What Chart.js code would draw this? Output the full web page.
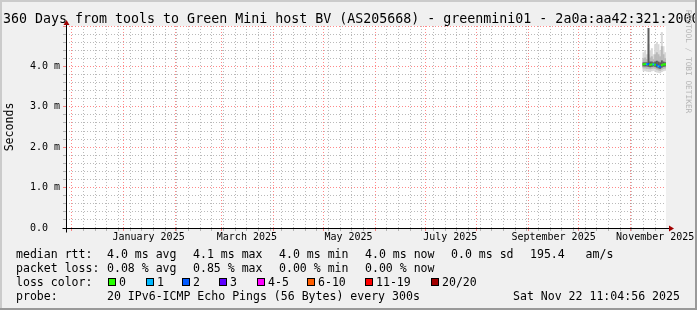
<!DOCTYPE html>
<html>
<head>
<meta charset="utf-8">
<script src="https://cdn.jsdelivr.net/npm/chart.js@4.4.1/dist/chart.umd.min.js"></script>
<style>
  html, body { margin: 0; padding: 0; background: #f0f0f0; }
  #frame { position: relative; width: 697px; height: 310px; overflow: hidden; background: #f0f0f0; }
  #frame canvas { position: absolute; left: 0; top: 0; }
  .t { position: absolute; font-family: 'DejaVu Sans Mono', monospace; font-size: 11.55px; line-height: 14px; white-space: pre; color: #000; }
  .sw { position: absolute; width: 6px; height: 6px; border: 1px solid #000; top: 278px; }
  #title { font-size: 13.3px; line-height: 16px; left: 3px; top: 11px; }
  #wm { position: absolute; left: 684px; top: 10px; writing-mode: vertical-rl; font-family: 'DejaVu Sans Mono', monospace; font-size: 7.8px; color: #b4b4b4; white-space: pre; }
  .shA { position: absolute; background: #cbcbcb; }
  .shB { position: absolute; background: #999; }
</style>
</head>
<body>
<div id="frame">
  <canvas id="chart" width="697" height="310"></canvas>
  <div class="t" id="title">360 Days from tools to Green Mini host BV (AS205668) - greenmini01 - 2a0a:aa42:321:2000</div>
  <div id="wm">RRDTOOL / TOBI OETIKER</div>

  <div class="t" style="left:16px;top:247px">median rtt:</div>
  <div class="t" style="left:107px;top:247px">4.0 ms avg</div>
  <div class="t" style="left:193px;top:247px">4.1 ms max</div>
  <div class="t" style="left:279px;top:247px">4.0 ms min</div>
  <div class="t" style="left:365px;top:247px">4.0 ms now</div>
  <div class="t" style="left:451px;top:247px">0.0 ms sd</div>
  <div class="t" style="left:530px;top:247px">195.4   am/s</div>

  <div class="t" style="left:16px;top:261px">packet loss:</div>
  <div class="t" style="left:107px;top:261px">0.08 % avg</div>
  <div class="t" style="left:193px;top:261px">0.85 % max</div>
  <div class="t" style="left:279px;top:261px">0.00 % min</div>
  <div class="t" style="left:365px;top:261px">0.00 % now</div>

  <div class="t" style="left:16px;top:275px">loss color:</div>
  <div id="lossLegend"></div>

  <div class="t" style="left:16px;top:289px">probe:</div>
  <div class="t" style="left:107px;top:289px">20 IPv6-ICMP Echo Pings (56 Bytes) every 300s</div>
  <div class="t" style="left:513px;top:289px">Sat Nov 22 11:04:56 2025</div>

  <div class="shA" style="left:0;top:0;width:697px;height:2px"></div>
  <div class="shA" style="left:0;top:0;width:2px;height:310px"></div>
  <div class="shB" style="left:0;top:308px;width:697px;height:2px"></div>
  <div class="shB" style="left:695px;top:0;width:2px;height:310px"></div>
</div>
<script>
// graph window: 360 days ending Sat Nov 22 2025 11:04:56
const startMs = Date.UTC(2024, 10, 27, 11, 4, 56);
const spanDays = 360;

// x axis labels (centred mid-month, every second month)
const xLabels = ['January 2025', 'March 2025', 'May 2025', 'July 2025', 'September 2025', 'November 2025'];
const xLabelDates = ['2025-01-16', '2025-03-16', '2025-05-16', '2025-07-16', '2025-09-16', '2025-11-16'];
const firstSunday = '2024-12-01';

// y axis, in ms
const yMax = 5;
const yStep = 0.2;

// samples: day offset from graph start (only the last two weeks have data)
const sampleDays = [346.5, 347.5, 348.5, 349.5, 350.5, 351.5, 352.5, 353.5, 354.5, 355.5, 356.5, 357.5, 358.5, 359.5];
// smoke envelope (ms)
const smokeMax  = [4.35, 4.40, 4.30, 4.55, 4.40, 4.45, 4.30, 4.55, 4.60, 4.55, 4.40, 4.85, 4.50, 4.35];
const smokeHigh = [4.20, 4.22, 4.18, 4.30, 4.22, 4.25, 4.18, 4.30, 4.35, 4.30, 4.25, 4.50, 4.30, 4.20];
const coreHigh  = [4.10, 4.10, 4.10, 4.95, 4.12, 4.12, 4.10, 4.12, 4.14, 4.12, 4.10, 4.15, 4.12, 4.10];
const medianRtt = [4.05, 4.06, 4.05, 4.06, 4.04, 4.05, 4.05, 4.04, 4.03, 4.00, 3.99, 4.03, 4.05, 4.05];
const coreLow   = [4.00, 4.00, 4.00, 3.99, 3.98, 3.99, 4.00, 3.99, 3.97, 3.95, 3.94, 3.97, 3.99, 4.00];
const smokeLow  = [3.95, 3.95, 3.94, 3.94, 3.93, 3.94, 3.95, 3.94, 3.92, 3.90, 3.89, 3.92, 3.94, 3.95];
const smokeMin  = [3.88, 3.88, 3.87, 3.86, 3.86, 3.88, 3.89, 3.87, 3.85, 3.84, 3.83, 3.86, 3.88, 3.89];
// lost pings out of 20 per sample
const lostPings = [0, 0, 1, 2, 0, 0, 1, 0, 2, 1, 2, 0, 0, 0];

// loss colour legend
const lossLabels = ['0', '1', '2', '3', '4-5', '6-10', '11-19', '20/20'];
const lossColors = ['#26ff00', '#00b8ff', '#0059ff', '#5e00ff', '#ff00ff', '#ff5e00', '#ff0000', '#a10000'];
const lossUpper  = [0, 1, 2, 3, 5, 10, 19, 20];

const swatchX = [108, 146, 182, 219, 257, 307, 365, 431];
const legendBox = document.getElementById('lossLegend');
lossLabels.forEach((lab, i) => {
  const sw = document.createElement('div');
  sw.className = 'sw';
  sw.style.left = swatchX[i] + 'px';
  sw.style.background = lossColors[i];
  legendBox.appendChild(sw);
  const tx = document.createElement('div');
  tx.className = 't';
  tx.style.left = (swatchX[i] + 11) + 'px';
  tx.style.top = '275px';
  tx.textContent = lab;
  legendBox.appendChild(tx);
});

function dayOf(iso) {
  return (Date.parse(iso + 'T00:00:00Z') - startMs) / 864e5;
}
function lossColor(n) {
  const i = lossUpper.findIndex((u) => n <= u);
  return lossColors[i];
}

// x ticks: weekly minor grid, monthly major grid, labels mid-month
const xTickInfo = new Map();
function addTick(v, key, val) {
  const k = Math.round(v * 1000) / 1000;
  const info = xTickInfo.get(k) || {};
  info[key] = val;
  xTickInfo.set(k, info);
}
for (let d = dayOf(firstSunday); d <= spanDays; d += 7) addTick(d, 'grid', 'minor');
for (let m = 0; m < 12; m++) {
  const d = (Date.UTC(2024, 11 + m, 1) - startMs) / 864e5;
  if (d <= spanDays) addTick(d, 'grid', 'major');
}
xLabelDates.forEach((iso, i) => addTick(dayOf(iso), 'label', xLabels[i]));
const xTickValues = [...xTickInfo.keys()].sort((a, b) => a - b);

const yTickValues = [];
for (let v = 0; v <= yMax + 1e-9; v += yStep) yTickValues.push(Math.round(v * 10) / 10);

const MINOR = 'rgba(140,140,140,0.6)';
const MAJOR = 'rgba(255,40,40,0.55)';
const NONE = 'rgba(0,0,0,0)';

function xGrid(c) {
  const info = c.tick && xTickInfo.get(c.tick.value);
  if (!info || !info.grid) return NONE;
  return info.grid === 'major' ? MAJOR : MINOR;
}
function yGrid(c) {
  return c.tick && Number.isInteger(c.tick.value) ? MAJOR : MINOR;
}

function bars(lo, hi) {
  return sampleDays.map((d, i) => ({ x: d, y: [lo[i], hi[i]] }));
}
const barCommon = { grouped: false, barPercentage: 1, categoryPercentage: 1, barThickness: 2, borderWidth: 0, inflateAmount: 0 };

const framePlugin = {
  id: 'frame',
  beforeDraw(chart) {
    const { ctx, chartArea: a } = chart;
    ctx.save();
    ctx.fillStyle = '#ffffff';
    ctx.fillRect(a.left, a.top, a.right - a.left, a.bottom - a.top);
    ctx.restore();
  },
  afterDraw(chart) {
    const { ctx, chartArea: a } = chart;
    const x0 = Math.round(a.left) + 0.5;
    const y0 = Math.round(a.bottom) + 0.5;
    ctx.save();
    ctx.strokeStyle = '#000';
    ctx.lineWidth = 1;
    ctx.beginPath();
    ctx.moveTo(x0 - 4, y0); ctx.lineTo(a.right + 4, y0);
    ctx.moveTo(x0, y0 + 4); ctx.lineTo(x0, a.top - 3);
    ctx.stroke();
    ctx.fillStyle = '#a00000';
    ctx.beginPath();
    ctx.moveTo(a.right + 3, y0 - 3); ctx.lineTo(a.right + 8, y0); ctx.lineTo(a.right + 3, y0 + 3);
    ctx.closePath(); ctx.fill();
    ctx.beginPath();
    ctx.moveTo(x0 - 3, a.top - 1); ctx.lineTo(x0, a.top - 6); ctx.lineTo(x0 + 3, a.top - 1);
    ctx.closePath(); ctx.fill();
    ctx.restore();
  }
};

new Chart(document.getElementById('chart'), {
  type: 'bar',
  data: {
    datasets: [
      { ...barCommon, label: 'median', data: bars(medianRtt.map((v) => v - 0.025), medianRtt.map((v) => v + 0.025)),
        backgroundColor: lostPings.map(lossColor), order: 1 },
      { ...barCommon, label: 'core', data: bars(coreLow, coreHigh), backgroundColor: '#5e5e5e', order: 2 },
      { ...barCommon, label: 'smoke', data: bars(smokeLow, smokeHigh), backgroundColor: '#b9b9b9', order: 3 },
      { ...barCommon, label: 'envelope', data: bars(smokeMin, smokeMax), backgroundColor: '#d8d8d8', order: 4 }
    ]
  },
  options: {
    responsive: false,
    animation: false,
    devicePixelRatio: 1,
    layout: { padding: { left: 0, right: 31, top: 26, bottom: 62 } },
    plugins: { legend: { display: false }, tooltip: { enabled: false }, title: { display: false } },
    scales: {
      x: {
        type: 'linear',
        min: 0,
        max: spanDays,
        bounds: 'data',
        offset: false,
        afterBuildTicks: (axis) => { axis.ticks = xTickValues.map((v) => ({ value: v })); },
        afterFit: (axis) => { axis.height = 20; axis.paddingLeft = 0; axis.paddingRight = 0; },
        grid: {
          offset: false,
          color: xGrid,
          tickColor: xGrid,
          tickBorderDash: [],
          tickLength: 3
        },
        border: { display: false, dash: [1, 2] },
        ticks: {
          autoSkip: false,
          maxRotation: 0,
          minRotation: 0,
          padding: 0,
          color: '#000',
          font: { family: 'DejaVu Sans Mono', size: 10 },
          callback: (v) => {
            const info = xTickInfo.get(Math.round(v * 1000) / 1000);
            return info && info.label ? info.label : '';
          }
        }
      },
      y: {
        min: 0,
        max: yMax,
        bounds: 'data',
        afterBuildTicks: (axis) => { axis.ticks = yTickValues.map((v) => ({ value: v })); },
        afterFit: (axis) => { axis.width = 66; axis.paddingTop = 0; axis.paddingBottom = 0; },
        grid: {
          color: yGrid,
          tickColor: yGrid,
          tickBorderDash: [],
          tickLength: 3
        },
        border: { display: false, dash: [1, 2] },
        title: {
          display: true,
          text: 'Seconds',
          color: '#000',
          font: { family: 'DejaVu Sans Mono', size: 11.55 },
          padding: { top: 3, bottom: 0 }
        },
        ticks: {
          autoSkip: false,
          padding: 3,
          color: '#000',
          font: { family: 'DejaVu Sans Mono', size: 10 },
          callback: (v) => {
            if (!Number.isInteger(v) || v >= yMax) return '';
            return v === 0 ? '0.0  ' : v.toFixed(1) + ' m';
          }
        }
      }
    }
  },
  plugins: [framePlugin]
});
</script>
</body>
</html>
